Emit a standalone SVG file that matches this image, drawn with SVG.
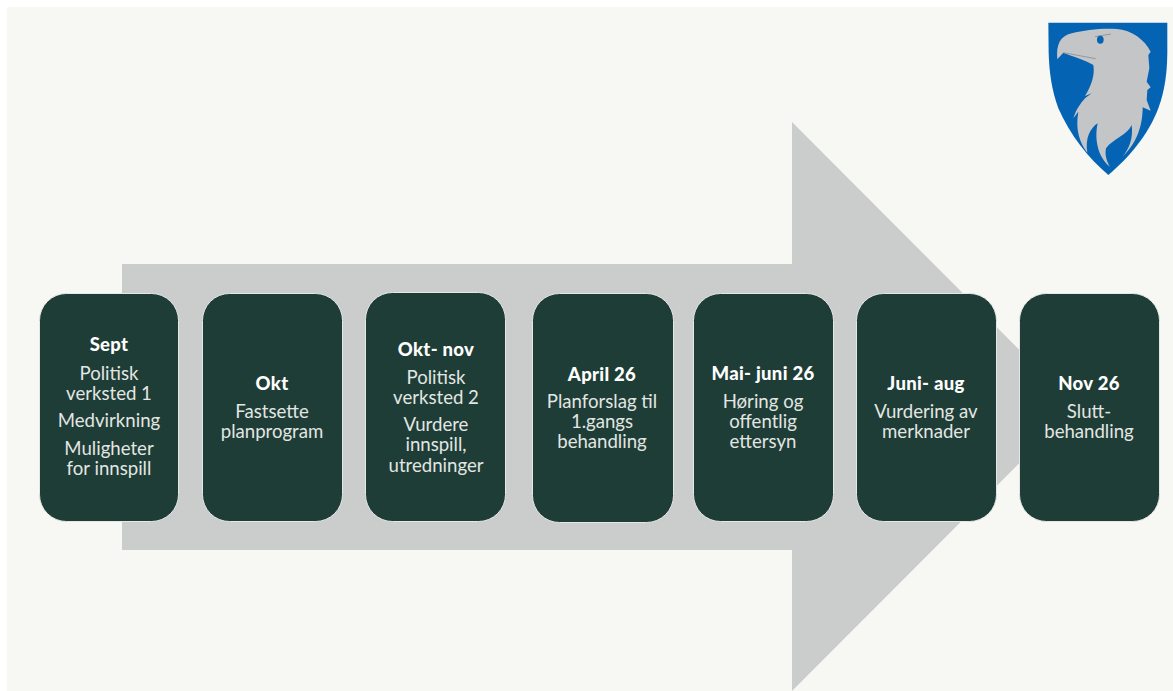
<svg xmlns="http://www.w3.org/2000/svg" width="1173" height="691" viewBox="0 0 1173 691">
<style>
.n{fill:#1e3d36;stroke:#e4e7e3;stroke-width:1}
text{font-family:"Lato","Liberation Sans",sans-serif;font-size:18.600px;fill:#e3e6e3;text-anchor:middle}
.b{font-weight:900;fill:#ffffff;font-size:18.500px;letter-spacing:.3px}
</style>
<rect width="1173" height="691" fill="#ffffff"/>
<rect x="7" y="7" width="1166" height="684" fill="#f7f8f3"/>
<polygon points="122,264 792,264 792,122 1076,406.500 792,691 792,550 122,550" fill="#cbcdcc"/>
<g id="logo">
<g transform="translate(1030,10) scale(.33333)">
<path d="M55,38H412V130C411,190 405,240 385,295C355,375 295,445 235,495C175,445 120,375 85,295C65,240 58,190 56,130Z" fill="#0563b4"/>
<path d="M82,148C78,105 90,78 125,70C165,60 215,54 260,57C305,60 345,90 362,125L355,135L358,175L350,215L362,232L352,240L350,270L362,302L338,292C338,340 325,395 278,440C298,415 310,385 305,345C292,375 250,385 228,415C224,435 230,455 240,470C212,450 190,400 203,340C180,355 165,385 172,428C150,400 135,360 145,305L130,325C140,295 152,280 165,265L185,250L165,258C185,225 195,195 190,165C165,150 130,140 100,128Z" fill="#c3c5c7"/>
<path d="M100,128L197,146M195,80L243,72" stroke="#8a8f94" stroke-width="2.500" fill="none"/>
<ellipse cx="211" cy="89" rx="10" ry="12" fill="#0563b4"/>
</g>
</g>
<g id="connectors"></g>
<g id="node-1"><rect class="n" x="39.500" y="293.500" width="139" height="228" rx="27"/>
<text class="b" x="109" y="351">Sept</text><text x="109" y="380">Politisk</text><text x="109" y="400">verksted 1</text><text x="109" y="427">Medvirkning</text><text x="109" y="455">Muligheter</text><text x="109" y="475">for innspill</text></g>
<g id="node-2"><rect class="n" x="202.500" y="293.500" width="140" height="228" rx="27"/>
<text class="b" x="272" y="390">Okt</text><text x="272" y="418">Fastsette</text><text x="272" y="438">planprogram</text></g>
<g id="node-3"><rect class="n" x="365.500" y="292.500" width="140" height="229" rx="27"/>
<text class="b" x="436" y="356">Okt- nov</text><text x="436" y="384">Politisk</text><text x="436" y="404">verksted 2</text><text x="436" y="431">Vurdere</text><text x="436" y="451">innspill,</text><text x="436" y="472">utredninger</text></g>
<g id="node-4"><rect class="n" x="532.500" y="293.500" width="141" height="229" rx="27"/>
<text class="b" x="602" y="381">April 26</text><text x="602" y="408">Planforslag til</text><text x="602" y="428">1.gangs</text><text x="602" y="448">behandling</text></g>
<g id="node-5"><rect class="n" x="693.500" y="293.500" width="140" height="228" rx="27"/>
<text class="b" x="763" y="380">Mai- juni 26</text><text x="763" y="408">Høring og</text><text x="763" y="428">offentlig</text><text x="763" y="448">ettersyn</text></g>
<g id="node-6"><rect class="n" x="856.500" y="293.500" width="140" height="228" rx="27"/>
<text class="b" x="926" y="390">Juni- aug</text><text x="926" y="418">Vurdering av</text><text x="926" y="438">merknader</text></g>
<g id="node-7"><rect class="n" x="1019.500" y="293.500" width="140" height="228" rx="27"/>
<text class="b" x="1089" y="390">Nov 26</text><text x="1089" y="418">Slutt-</text><text x="1089" y="438">behandling</text></g>
</svg>
